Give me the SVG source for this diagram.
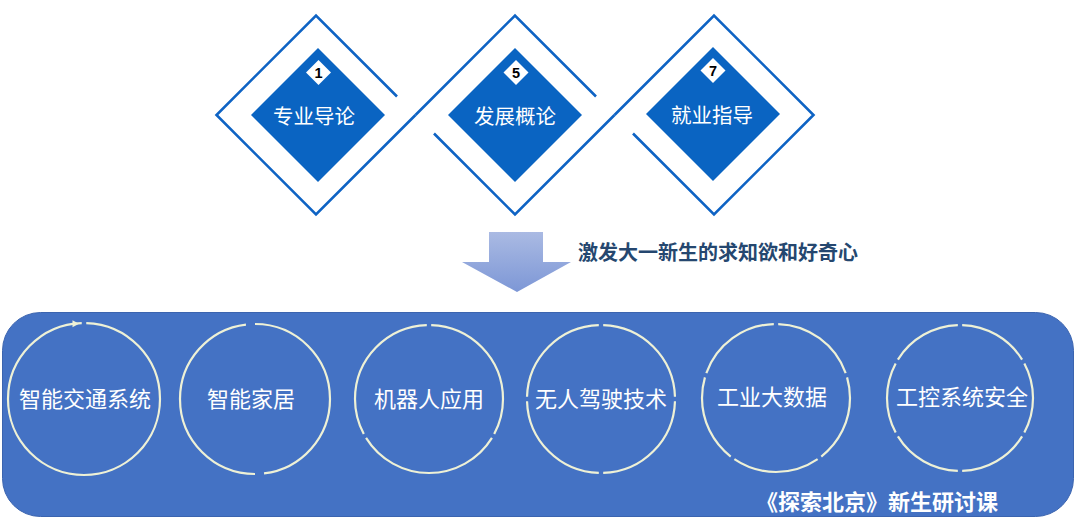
<svg xmlns="http://www.w3.org/2000/svg" width="1080" height="524" viewBox="0 0 1080 524">
<defs>
<linearGradient id="arrowGrad" x1="0" y1="0" x2="0" y2="1">
<stop offset="0" stop-color="#AABAE3"/>
<stop offset="1" stop-color="#7D97D6"/>
</linearGradient>
<style>
.frame{fill:none;stroke:#0E63C4;stroke-width:2.6}
.inner{fill:#0A64C2}
.badge{fill:#FFFFFF}
.num{font-family:"Liberation Sans",Arial,sans-serif;font-weight:bold;font-size:14.5px;fill:#000000;text-anchor:middle}
.dlabel{font-family:"Noto Sans CJK SC",sans-serif;font-size:20.5px;fill:#FFFFFF;text-anchor:middle}
.ring{fill:none;stroke:#EEF1D6;stroke-width:2.2}
.clabel{font-family:"Noto Sans CJK SC",sans-serif;font-size:22px;fill:#FFFFFF;text-anchor:middle}
.caption{font-family:"Noto Sans CJK SC",sans-serif;font-size:20px;font-weight:bold;fill:#25476F}
.footer{font-family:"Noto Sans CJK SC",sans-serif;font-size:22px;font-weight:bold;fill:#FFFFFF;text-anchor:middle}
</style>
</defs>
<rect width="1080" height="524" fill="#FFFFFF"/>

<g id="diamond-1">
<path class="frame" d="M397,96.5 L316,15.5 L216.5,115 L316,214.5 L415.5,115"/>
<polygon class="inner" points="318,48 385,115 318,182 251,115"/>
<polygon class="badge" points="318.5,60 331,72.5 318.5,85 306,72.5"/>
<text class="num" x="318.5" y="77.8">1</text>
<text class="dlabel" x="314" y="124">专业导论</text>
</g>

<g id="diamond-5">
<path class="frame" d="M415.5,115 L515,15.5 L596,96.5 M434,133.5 L515,214.5 L614.5,115"/>
<polygon class="inner" points="515,48 582,115 515,182 448,115"/>
<polygon class="badge" points="516,60 528.5,72.5 516,85 503.5,72.5"/>
<text class="num" x="516" y="77.8">5</text>
<text class="dlabel" x="515" y="124">发展概论</text>
</g>

<g id="diamond-7">
<path class="frame" d="M614.5,115 L714,15.5 L813.5,115 L714,214.5 L633,133.5"/>
<polygon class="inner" points="713,47 780,114 713,181 646,114"/>
<polygon class="badge" points="713,58 725.5,70.5 713,83 700.5,70.5"/>
<text class="num" x="713" y="75.8">7</text>
<text class="dlabel" x="712" y="123">就业指导</text>
</g>

<g id="connectors">
<polygon points="489,232 543,232 543,262 571,262 517,292 462,262 489,262" fill="url(#arrowGrad)"/>
</g>

<g id="caption">
<text class="caption" x="578" y="259.5">激发大一新生的求知欲和好奇心</text>
</g>

<g id="panel">
<rect x="2.5" y="312.5" width="1071" height="204" rx="38" ry="38" fill="#4472C4" stroke="#3B64AF" stroke-width="1"/>
</g>

<g id="topic-1">
<circle class="ring" cx="84" cy="399" r="76" pathLength="360" stroke-dasharray="356.5 3.5" stroke-dashoffset="88.25"/>
<polygon points="79,323.8 72.5,320.3 72.5,327.3" fill="#EEF1D6"/>
<text class="clabel" x="85" y="407">智能交通系统</text>
</g>

<g id="topic-2">
<circle class="ring" cx="255" cy="399" r="75" pathLength="360" stroke-dasharray="173 7" stroke-dashoffset="90"/>
<text class="clabel" x="251" y="407">智能家居</text>
</g>

<g id="topic-3">
<circle class="ring" cx="429" cy="399" r="74" pathLength="360" stroke-dasharray="116.5 3.5" stroke-dashoffset="88.25"/>
<text class="clabel" x="429" y="407">机器人应用</text>
</g>

<g id="topic-4">
<circle class="ring" cx="601" cy="399" r="74" pathLength="360" stroke-dasharray="86.5 3.5" stroke-dashoffset="88.25"/>
<text class="clabel" x="601" y="407">无人驾驶技术</text>
</g>

<g id="topic-5">
<circle class="ring" cx="776" cy="398" r="74" pathLength="360" stroke-dasharray="68.5 3.5" stroke-dashoffset="16.25"/>
<text class="clabel" x="772" y="405">工业大数据</text>
</g>

<g id="topic-6">
<circle class="ring" cx="960" cy="398" r="73" pathLength="360" stroke-dasharray="56.5 3.5" stroke-dashoffset="28.25"/>
<text class="clabel" x="962" y="405">工控系统安全</text>
</g>

<g id="footer">
<text class="footer" x="877" y="509.5">《探索北京》新生研讨课</text>
</g>
</svg>
